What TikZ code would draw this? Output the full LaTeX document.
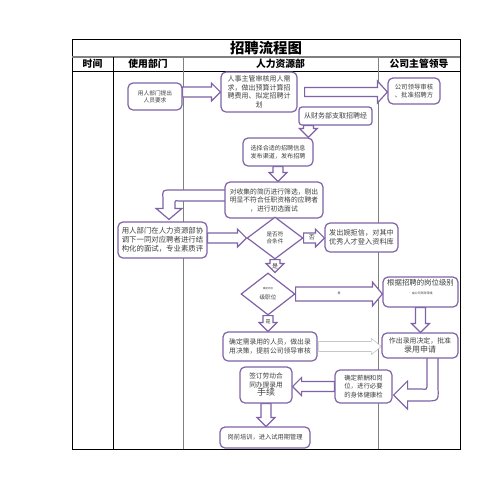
\documentclass[tikz,border=0pt]{standalone}
\usepackage{fontspec}
\setmainfont{Noto Sans CJK SC}
\usetikzlibrary{shapes.geometric}
\usetikzlibrary{calc}
\definecolor{purp}{HTML}{7F63A6}
\definecolor{txt}{HTML}{404040}
\pgfdeclarelayer{bg}
\pgfdeclarelayer{arrows}
\pgfsetlayers{bg,arrows,main}
\tikzstyle{box}=[rectangle,rounded corners=5pt,draw=purp,line width=1.2pt,fill=white,inner sep=0pt,align=center,text=txt]
\tikzstyle{dec}=[diamond,draw=purp,line width=1.2pt,fill=white,inner sep=0pt,align=center,text=txt]
\tikzstyle{head}=[font=\bfseries\fontsize{9.8}{10}\selectfont]
\tikzstyle{lbl}=[inner sep=0pt,text=txt]
\tikzstyle{ublk}=[draw=purp,line width=1.2pt,fill=white]
\tikzset{
  blkpath/.style n args={3}{to path={
    let \p1=(\tikztostart),\p2=(\tikztotarget),
        \n1={atan2(\y2-\y1,\x2-\x1)},\n2={veclen(\x2-\x1,\y2-\y1)} in
    {[shift={(\p1)},rotate=\n1]
      (0,-#1) -- (\n2-#3,-#1) -- (\n2-#3,-#2) -- (\n2,0) -- (\n2-#3,#2) -- (\n2-#3,#1) -- (0,#1) -- cycle}}},
  blk/.style={draw=purp,line width=1.2pt,fill=white,blkpath={5}{9}{9}},
  bigblk/.style={draw=purp,line width=1.2pt,fill=white,blkpath={7}{12}{10}},
  longblk/.style={draw=purp,line width=1.2pt,fill=white,blkpath={4.5}{11}{10}},
  greyblk/.style={draw=gray!45,line width=0.6pt,fill=white,blkpath={5}{8}{10}},
}

\begin{document}
\begin{tikzpicture}[x=1pt,y=-1pt]
  \useasboundingbox (0,0) rectangle (498,488);
  % table
  \begin{pgfonlayer}{bg}
    \draw[black,line width=0.8pt] (72,39) rectangle (460,449);
    \draw[gray,line width=1.5pt] (72,57) -- (460,57);
    \draw[black,line width=0.8pt] (72,71) -- (460,71);
    \draw[black,line width=0.8pt] (113,57) -- (113,449);
    \draw[gray,line width=0.8pt] (183,57) -- (183,449);
    \draw[gray,line width=0.8pt] (378,57) -- (378,449);
  \end{pgfonlayer}
  \node[font=\bfseries\fontsize{14.4}{15}\selectfont] (title) at (266,48) {招聘流程图};
  \node[head] (h1) at (92.5,64) {时间};
  \node[head] (h2) at (148,64) {使用部门};
  \node[head] (h3) at (280.5,64) {人力资源部};
  \node[head] (h4) at (419,64) {公司主管领导};
  % boxes
  \node[box,minimum width=54pt,minimum height=27pt,font=\fontsize{5.7}{7}\selectfont] at (155,96.5) (req) {用人部门提出\\人员要求};
  \node[box,minimum width=76pt,minimum height=40pt,font=\fontsize{7}{8.6}\selectfont] at (259,92) (plan) {人事主管审核用人需\\求，做出预算计算招\\聘费用、拟定招聘计\\划};
  \node[box,minimum width=52pt,minimum height=26pt,font=\fontsize{6.4}{7.6}\selectfont] at (414,91) (lead) {公司领导审核\\、批准招聘方};
  \node[box,rounded corners=3pt,minimum width=73pt,minimum height=18pt,font=\fontsize{7}{8}\selectfont] at (335.5,116) (fin) {从财务部支取招聘经};
  \node[box,minimum width=70pt,minimum height=28pt,font=\fontsize{6.1}{8}\selectfont] at (278,152) (pub) {选择合适的招聘信息\\发布渠道，发布招聘};
  \node[box,minimum width=98pt,minimum height=36pt,font=\fontsize{6.8}{8.5}\selectfont] at (274,200) (scr) {对收集的简历进行筛选，剔出\\明显不符合任职资格的应聘者\\，进行初选面试};
  \node[box,minimum width=89pt,minimum height=36pt,font=\fontsize{7.4}{9}\selectfont] at (162.5,240) (intv) {用人部门在人力资源部协\\调下一同对应聘者进行结\\构化的面试，专业素质评};
  \node[dec,minimum width=56pt,minimum height=42pt,font=\fontsize{5.6}{7}\selectfont] at (275,238) (q1) {是否符\\合条件};
  \node[box,minimum width=73pt,minimum height=29pt,font=\fontsize{7.2}{9}\selectfont] at (361.5,237.5) (rej) {发出婉拒信，对其中\\优秀人才登入资料库};
  \node[dec,minimum width=54pt,minimum height=42pt,font=\fontsize{5.6}{7}\selectfont] at (268,294) (q2) {{\fontsize{2.5}{3}\selectfont 确定岗位}\\[3pt]级职位};
  \node[box,minimum width=75pt,minimum height=30pt,font=\fontsize{7.4}{9}\selectfont] at (420.5,292) (lvl) {根据招聘的岗位级别\\{\fontsize{3}{4}\selectfont · 由公司领导审批}\\[2pt]};
  \node[box,minimum width=94pt,minimum height=29pt,font=\fontsize{6.8}{9}\selectfont] at (270,346.5) (dcd) {确定需录用的人员，做出录\\用决策，提前公司领导审核};
  \node[box,minimum width=76pt,minimum height=25pt,font=\fontsize{6.9}{8.5}\selectfont] at (420,345.5) (apr) {作出录用决定，批准\\{\fontsize{8}{9}\selectfont 录用申请}};
  \node[box,minimum width=57pt,minimum height=33pt,font=\fontsize{6.4}{8.5}\selectfont] at (363.5,386.5) (chk) {确定薪酬和岗\\位，进行必要\\的身体健康检};
  \node[box,minimum width=52pt,minimum height=36pt,font=\fontsize{6.7}{8.5}\selectfont] at (266,385) (sgn) {签订劳动合\\同办理录用\\{\fontsize{9}{10}\selectfont 手续}};
  \node[box,minimum width=90pt,minimum height=21pt,font=\fontsize{6.25}{7}\selectfont] at (265,437.5) (trn) {岗前培训，进入试用期管理};
  % arrows
  \coordinate (f1) at ([xshift=10pt]fin.south west);
  \begin{pgfonlayer}{arrows}
    \draw[blk] (req.east |- plan.west) to (plan.west);
    \draw[longblk] ([xshift=7pt]plan.east) to (lead.west |- plan.east);
    \draw[blk] (f1) to (f1 |- pub.north);
    \draw[blk] (pub.south) to (pub.south |- scr.north);
    \draw[ublk] ($(scr.west)+(5,-10)$) -- ($(scr.west)+(-53,-10)$)
      .. controls ($(scr.west)+(-62,-10)$) .. ($(intv.north)+(0.5,-23)$)
      -- ($(intv.north)+(0.5,-13)$) -- ($(intv.north)+(-6.5,-13)$)
      -- ($(intv.north)+(6.5,-2)$) -- ($(intv.north)+(19.5,-13)$)
      -- ($(intv.north)+(12.5,-13)$) -- ($(intv.north)+(12.5,-17)$)
      .. controls ($(intv.north)+(12.5,-21)$) .. ($(scr.west)+(-46,1)$)
      -- ($(scr.west)+(5,1)$) -- cycle;
    \draw[blk] (intv.east |- q1.west) to (q1.west);
    \draw[blk] (q1.east) to (rej.west |- q1.east);
    \draw[blk] (q1.south) to (q1.south |- q2.north);
    \draw[bigblk] (q2.east) to (lvl.west |- q2.east);
    \draw[blk] (q2.south) to (q2.south |- dcd.north);
    \draw[greyblk] ([xshift=1pt]dcd.east) to (apr.west |- dcd.east);
    \draw[blk] (lvl.south) to (lvl.south |- apr.north);
    \draw[ublk] ($(apr.south)+(7,-2)$) -- ($(apr.south)+(7,25)$)
      .. controls ($(apr.south)+(7,31)$) .. ($(chk.east)+(29,2.5)$)
      -- ($(chk.east)+(15,2.5)$) -- ($(chk.east)+(15,-5.5)$)
      -- ($(chk.east)+(1,8.5)$) -- ($(chk.east)+(15,22.5)$)
      -- ($(chk.east)+(15,14.5)$) -- ($(chk.east)+(32,14.5)$)
      .. controls ($(chk.east)+(46,14.5)$) .. ($(apr.south)+(18,29)$)
      -- ($(apr.south)+(18,-2)$) -- cycle;
    \draw[blk] (chk.west) to (sgn.east |- chk.west);
    \draw[blk] (sgn.south) to (sgn.south |- trn.north);
  \end{pgfonlayer}
  % labels
  \node[lbl,font=\fontsize{6}{6}\selectfont] (no1) at ($(q1.east)!0.4!(rej.west)$) {否};
  \node[lbl,font=\fontsize{6}{6}\selectfont] (yes1) at ([yshift=-7pt]q1.south) {是};
  \node[lbl,font=\fontsize{3}{3}\selectfont] (yes2) at ($(q2.east)!0.5!(lvl.west)$) {是};
  \node[lbl,font=\fontsize{5}{5}\selectfont] (yes3) at ([yshift=-6pt]q2.south) {是};
\end{tikzpicture}
\end{document}
